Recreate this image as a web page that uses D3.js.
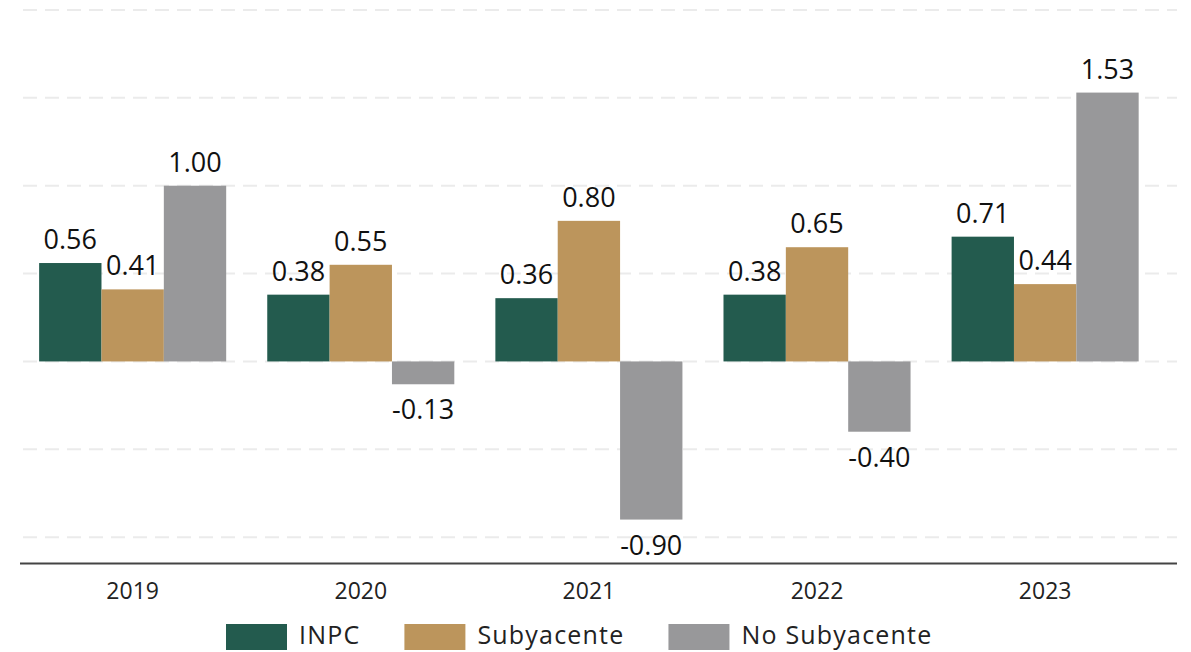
<!DOCTYPE html>
<html>
<head>
<meta charset="utf-8">
<script src="https://cdn.jsdelivr.net/npm/d3@7"></script>
<style>
  body { margin: 0; background: #fff; }
  svg { display: block; }
</style>
</head>
<body>
<svg width="1191" height="652"></svg>
<script>
// chart data
var years = ['2019', '2020', '2021', '2022', '2023'];
var seriesNames = ['INPC', 'Subyacente', 'No Subyacente'];
var inpc = [0.56, 0.38, 0.36, 0.38, 0.71];
var subyacente = [0.41, 0.55, 0.80, 0.65, 0.44];
var noSubyacente = [1.00, -0.13, -0.90, -0.40, 1.53];
var gridTicks = [-1, -0.5, 0, 0.5, 1, 1.5, 2];
var colors = ['#235B4E', '#BC955C', '#98989A'];

var svg = d3.select('svg');
var valueFont = '"Open Sans", sans-serif';

var x0 = d3.scaleBand().domain(years).range([18.6, 1159.2])
  .paddingInner(0.18).paddingOuter(0.09);
var x1 = d3.scaleBand().domain(seriesNames).range([0, x0.bandwidth()]);
var y = d3.scaleLinear().domain([-1.15, 2]).range([563.5, 10]);

var rows = years.map(function (yr, i) {
  return { year: yr, values: [inpc[i], subyacente[i], noSubyacente[i]] };
});

// gridlines
svg.append('g').selectAll('line')
  .data(gridTicks)
  .enter().append('line')
  .attr('x1', 23).attr('x2', 1177)
  .attr('y1', d => y(d)).attr('y2', d => y(d))
  .attr('stroke', '#ebebeb')
  .attr('stroke-width', 2)
  .attr('stroke-dasharray', '14,8');

// bars
var groups = svg.append('g').selectAll('g')
  .data(rows)
  .enter().append('g')
  .attr('transform', d => 'translate(' + x0(d.year) + ',0)');

groups.selectAll('rect')
  .data(d => d.values.map((v, k) => ({ name: seriesNames[k], value: v, k: k })))
  .enter().append('rect')
  .attr('x', d => x1(d.name))
  .attr('y', d => y(Math.max(0, d.value)))
  .attr('width', x1.bandwidth())
  .attr('height', d => Math.abs(y(d.value) - y(0)))
  .attr('fill', d => colors[d.k]);

groups.selectAll('text')
  .data(d => d.values.map((v, k) => ({ name: seriesNames[k], value: v, k: k })))
  .enter().append('text')
  .attr('x', d => x1(d.name) + x1.bandwidth() / 2)
  .attr('y', d => d.value >= 0 ? y(d.value) - 14 : y(d.value) + 35)
  .attr('text-anchor', 'middle')
  .style('font-family', valueFont)
  .style('font-size', '27px')
  .attr('fill', '#111')
  .text(d => d.value.toFixed(2));

// x axis
var xAxis = d3.axisBottom(x0).tickSize(0).tickPadding(0);
var ax = svg.append('g').attr('transform', 'translate(0,563.5)').call(xAxis);
ax.select('.domain').remove();
ax.selectAll('text')
  .attr('dy', 0).attr('y', 35)
  .style('font-family', valueFont)
  .style('font-size', '23px')
  .attr('fill', '#222');
svg.append('line')
  .attr('x1', 20).attr('x2', 1177)
  .attr('y1', 563.5).attr('y2', 563.5)
  .attr('stroke', '#444').attr('stroke-width', 2);

// legend
var legend = svg.append('g');
var lx = 226;
seriesNames.forEach(function (name, k) {
  legend.append('rect')
    .attr('x', lx).attr('y', 624)
    .attr('width', 61).attr('height', 26)
    .attr('fill', colors[k]);
  var t = legend.append('text')
    .attr('x', lx + 73).attr('y', 644)
    .style('font-family', valueFont)
    .style('font-size', '25px')
    .style('letter-spacing', '1.2px')
    .attr('fill', '#222')
    .text(name);
  lx += 73 + t.node().getComputedTextLength() + 44;
});
</script>
</body>
</html>
